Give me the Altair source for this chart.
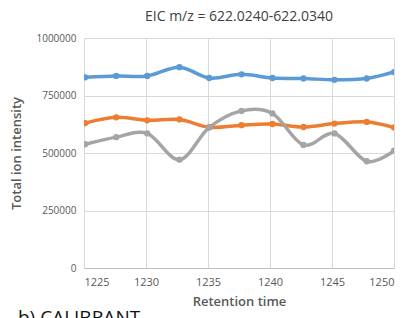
import altair as alt
import pandas as pd

times = [1225.1, 1227.6, 1230.1, 1232.7, 1235.1, 1237.7, 1240.2, 1242.7, 1245.2, 1247.8, 1250.0]
blue = [829000, 835000, 835000, 873000, 826000, 842000, 826000, 824000, 818000, 824000, 852000]
orange = [630000, 655000, 642000, 646000, 612000, 621000, 626000, 613000, 628000, 635000, 611000]
gray = [538000, 569000, 585000, 471000, 611000, 683000, 672000, 535000, 585000, 464000, 510000]
series_names = ["A", "B", "C"]
colors = ["#5B9BD5", "#ED7D31", "#A5A5A5"]

rows = []
for name, vals in zip(series_names, [blue, orange, gray]):
    for t, v in zip(times, vals):
        rows.append({"time": t, "value": v, "series": name})
df = pd.DataFrame(rows)

FONT = "Open Sans"
GRAY = "#595959"

x = alt.X("time:Q", title="Retention time",
          scale=alt.Scale(domain=[1225, 1250], nice=False, zero=False),
          axis=alt.Axis(values=[1225, 1230, 1235, 1240, 1245, 1250], format="d",
                        grid=True, gridColor="#d9d9d9", ticks=False,
                        domainColor="#bfbfbf", labelColor=GRAY, labelFont=FONT,
                        labelFontSize=11, labelPadding=8, titleColor=GRAY,
                        titleFont=FONT, titleFontSize=13, titleFontWeight=600,
                        titlePadding=8))
y = alt.Y("value:Q", title="Total ion intensity",
          scale=alt.Scale(domain=[0, 1000000], nice=False),
          axis=alt.Axis(values=[0, 250000, 500000, 750000, 1000000], format="d",
                        grid=True, gridColor="#d9d9d9", ticks=False, domain=False,
                        labelColor=GRAY, labelFont=FONT, labelFontSize=10,
                        labelPadding=8, titleColor=GRAY, titleFont=FONT,
                        titleFontSize=13, titleFontWeight=600, titlePadding=12))
color = alt.Color("series:N", scale=alt.Scale(domain=series_names, range=colors), legend=None)

base = alt.Chart(df)
lines = base.mark_line(interpolate="cardinal", strokeWidth=3.5, clip=True).encode(
    x=x, y=y, color=color, detail="series:N")
pts = base.mark_point(filled=True, size=40, opacity=1, clip=True).encode(
    x=x, y=y, color=color)

label_df = pd.DataFrame({"t": ["b) CALIBRANT"]})
lab = alt.Chart(label_df).mark_text(align="left", baseline="alphabetic", fontSize=19,
                                    font=FONT, color="#111111").encode(
    text="t:N", x=alt.value(-66), y=alt.value(286))

chart = alt.layer(lines, pts, lab).properties(
    width=310, height=230,
    title=alt.TitleParams("EIC m/z = 622.0240-622.0340", font=FONT, fontSize=14,
                          fontWeight=500, color="#404040", offset=9),
    autosize=alt.AutoSizeParams(type="none"),
    padding={"left": 76, "top": 30, "right": 4, "bottom": 60},
).configure_view(stroke=None)

chart.save("out.html", embed_options={"renderer": "svg", "actions": False})
